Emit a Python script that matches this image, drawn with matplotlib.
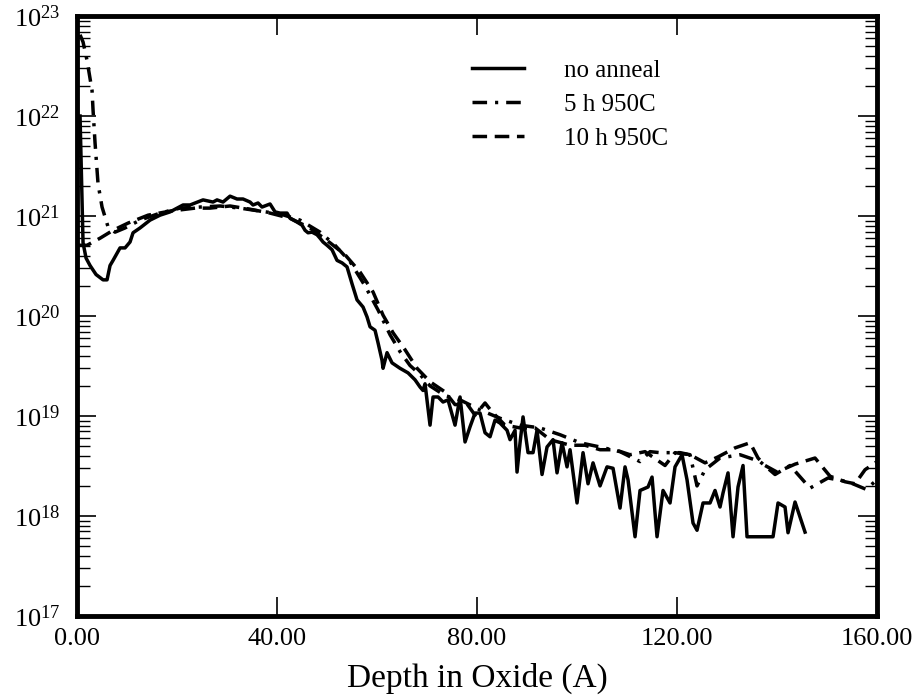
import math
import matplotlib
matplotlib.use("Agg")
import matplotlib.pyplot as plt
from matplotlib.ticker import LogLocator, FixedLocator, FuncFormatter, NullFormatter
from matplotlib.lines import Line2D

plt.rcParams['font.family'] = ['Liberation Serif', 'DejaVu Serif']
plt.rcParams['mathtext.fontset'] = 'custom'
plt.rcParams['mathtext.rm'] = 'Liberation Serif'
plt.rcParams['mathtext.it'] = 'Liberation Serif:italic'

# ---- data: no anneal ----
depth_no = [0.6, 1.2, 1.8, 2.6, 3.8, 5.2, 6.0, 6.6, 7.2, 8.6, 9.6, 10.6, 11.2, 12.6, 14.6, 16.6,
            18.6, 21.2, 22.6, 25.2, 27.2, 28.0, 29.2, 30.6, 32.0, 33.2, 34.6, 35.2, 36.2, 37.0,
            38.6, 39.6, 40.6, 42.0, 42.6, 44.0, 45.0, 45.6, 46.2, 47.0, 48.0, 48.6, 49.2, 50.0,
            51.0, 52.0, 53.0, 54.0, 55.0, 56.0, 57.2, 58.0, 58.6, 59.6, 60.2, 61.0, 61.2, 62.0,
            63.0, 64.6, 66.2, 67.6, 68.6, 69.2, 69.6, 70.6, 71.2, 72.2, 73.2, 74.2, 75.6, 76.6,
            77.6, 78.6, 79.6, 80.6, 81.6, 82.6, 83.6, 84.6, 86.0, 86.6, 87.6, 88.0, 88.6, 89.2,
            90.2, 91.2, 92.0, 93.0, 94.0, 95.2, 96.0, 97.0, 98.0, 98.6, 100.0, 101.2, 102.2,
            103.2, 104.6, 106.0, 107.2, 108.6, 109.6, 110.2, 111.6, 112.6, 114.2, 115.0, 116.0,
            117.2, 118.6, 119.6, 121.0, 122.0, 123.2, 124.0, 125.2, 126.6, 127.6, 128.6, 129.2,
            130.2, 131.2, 132.2, 133.2, 134.0, 139.2, 140.2, 141.6, 142.2, 143.6, 145.6]
conc_no = [1.0e22, 5.4e20, 3.8e20, 3.2e20, 2.6e20, 2.3e20, 2.3e20, 3.2e20, 3.6e20, 4.8e20,
           4.8e20, 5.5e20, 6.8e20, 7.6e20, 9.1e20, 1.02e21, 1.10e21, 1.29e21, 1.29e21, 1.45e21,
           1.38e21, 1.45e21, 1.38e21, 1.58e21, 1.48e21, 1.48e21, 1.38e21, 1.29e21, 1.35e21,
           1.23e21, 1.32e21, 1.10e21, 1.07e21, 1.07e21, 9.5e20, 8.7e20, 8.1e20, 7.2e20, 6.8e20,
           6.9e20, 6.5e20, 6.0e20, 5.5e20, 5.1e20, 4.6e20, 3.6e20, 3.4e20, 3.1e20, 2.1e20,
           1.45e20, 1.23e20, 9.8e19, 7.8e19, 7.2e19, 5.4e19, 3.6e19, 3.0e19, 4.3e19, 3.4e19,
           3.0e19, 2.7e19, 2.3e19, 1.95e19, 1.8e19, 2.1e19, 8.1e18, 1.55e19, 1.55e19, 1.38e19,
           1.45e19, 8.1e18, 1.55e19, 5.5e18, 7.8e18, 1.07e19, 1.07e19, 6.8e18, 6.2e18, 9.1e18,
           8.5e18, 7.2e18, 5.8e18, 7.2e18, 2.75e18, 5.4e18, 9.8e18, 4.3e18, 4.3e18, 7.2e18,
           2.6e18, 4.9e18, 5.8e18, 2.7e18, 5.4e18, 3.1e18, 4.6e18, 1.35e18, 4.3e18, 2.1e18,
           3.4e18, 2.0e18, 3.1e18, 3.0e18, 1.2e18, 3.1e18, 2.3e18, 6.2e17, 1.8e18, 1.95e18,
           2.45e18, 6.2e17, 1.8e18, 1.35e18, 3.1e18, 4.1e18, 2.3e18, 8.5e17, 7.2e17, 1.35e18,
           1.35e18, 1.8e18, 1.23e18, 1.7e18, 2.7e18, 6.2e17, 1.95e18, 3.2e18, 6.2e17, 6.2e17,
           1.35e18, 1.23e18, 6.8e17, 1.38e18, 6.9e17]

# ---- data: 5 h 950C ----
depth_5h = [0.6, 1.2, 2.0, 3.0, 3.2, 3.6, 4.2, 5.0, 6.2, 7.6, 9.6, 12.6, 16.6, 20.6, 24.6, 28.6,
            32.6, 36.6, 40.6, 44.6, 48.6, 51.6, 54.6, 57.6, 60.2, 62.6, 64.6, 66.6, 68.6, 70.6,
            73.6, 76.6, 80.6, 84.6, 88.6, 92.6, 96.6, 100.6, 104.6, 108.6, 112.6, 114.6, 116.6,
            120.6, 122.6, 124.0, 125.6, 128.6, 132.6, 136.6, 139.6, 142.6, 146.6, 150.2, 154.2,
            157.8, 160.0]
conc_5h = [6.5e22, 5.5e22, 3.6e22, 1.8e22, 1.15e22, 5.4e21, 2.1e21, 1.23e21, 7.8e20, 6.9e20,
           7.6e20, 9.1e20, 1.07e21, 1.2e21, 1.23e21, 1.26e21, 1.2e21, 1.12e21, 1.05e21, 9.1e20,
           6.9e20, 5.1e20, 3.5e20, 2.0e20, 1.15e20, 6.5e19, 4.4e19, 3.2e19, 2.6e19, 2.0e19,
           1.6e19, 1.45e19, 1.15e19, 9.5e18, 8.1e18, 7.6e18, 6.5e18, 5.4e18, 4.9e18, 4.4e18,
           3.5e18, 4.4e18, 4.3e18, 4.3e18, 4.1e18, 2.0e18, 2.9e18, 3.8e18, 4.1e18, 3.5e18,
           2.6e18, 3.2e18, 1.9e18, 2.4e18, 2.2e18, 1.85e18, 2.3e18]

# ---- data: 10 h 950C ----
depth_10h = [0.0, 2.0, 4.6, 7.2, 10.2, 14.2, 18.6, 23.6, 26.6, 30.6, 34.6, 38.6, 42.6, 46.6,
             50.6, 53.6, 56.6, 59.2, 61.2, 63.2, 65.6, 68.0, 70.6, 73.6, 75.6, 78.0, 79.6, 81.6,
             83.0, 85.6, 88.6, 91.6, 94.6, 98.6, 101.6, 104.6, 107.6, 110.6, 113.6, 117.6, 119.6,
             122.6, 125.6, 128.2, 131.6, 134.6, 136.2, 137.6, 140.0, 143.6, 147.6, 150.6, 153.6,
             155.6, 157.6, 160.0]
conc_10h = [5.1e20, 5.1e20, 6.0e20, 7.2e20, 8.5e20, 1.02e21, 1.12e21, 1.2e21, 1.2e21, 1.26e21,
            1.17e21, 1.07e21, 9.5e20, 7.6e20, 5.4e20, 4.1e20, 2.75e20, 1.74e20, 1.02e20, 6.8e19,
            4.6e19, 3.0e19, 2.2e19, 1.74e19, 1.3e19, 1.32e19, 1.02e19, 1.35e19, 1.1e19, 8.1e18,
            7.6e18, 7.6e18, 5.8e18, 5.1e18, 5.1e18, 4.6e18, 4.6e18, 4.1e18, 4.4e18, 3.2e18,
            4.3e18, 4.1e18, 3.4e18, 3.9e18, 4.8e18, 5.4e18, 3.8e18, 3.2e18, 2.75e18, 3.3e18,
            3.8e18, 2.5e18, 2.2e18, 2.1e18, 2.9e18, 3.5e18]

series_labels = ["no anneal", "5 h 950C", "10 h 950C"]
x_ticks = [0, 40, 80, 120, 160]
x_ticklabels = ["0.00", "40.00", "80.00", "120.00", "160.00"]
y_exponents = [17, 18, 19, 20, 21, 22, 23]

fig = plt.figure(figsize=(9.15, 6.98), dpi=100)
ax = fig.add_axes([0.0842, 0.1175, 0.8743, 0.8595])

lw = 2.5
ls_dashdot = (0, (4.2, 2.3, 0.9, 2.3))
ls_dashed = (0, (4.2, 2.2))
ax.plot(depth_no, conc_no, color='black', lw=lw, solid_joinstyle='round', label=series_labels[0])
ax.plot(depth_5h, conc_5h, color='black', lw=lw, linestyle=ls_dashdot, label=series_labels[1])
ax.plot(depth_10h, conc_10h, color='black', lw=lw, linestyle=ls_dashed, label=series_labels[2])

ax.set_yscale('log')
ax.set_xlim(0, 160)
ax.set_ylim(1e17, 1e23)

ax.xaxis.set_major_locator(FixedLocator(x_ticks))
ax.set_xticklabels(x_ticklabels)
ax.yaxis.set_major_locator(FixedLocator([10.0**e for e in y_exponents]))
ax.yaxis.set_major_formatter(FuncFormatter(lambda v, p: r"$\mathrm{10^{%d}}$" % round(math.log10(v))))
ax.yaxis.set_minor_locator(LogLocator(base=10, subs=range(2, 10), numticks=20))
ax.yaxis.set_minor_formatter(NullFormatter())

for s in ax.spines.values():
    s.set_linewidth(3.5)

ax.tick_params(axis='both', which='major', direction='in', length=14, width=1.2,
               top=True, right=True, labelsize=19, pad=9)
ax.tick_params(axis='y', which='minor', direction='in', length=9, width=1.0,
               left=True, right=True)
ax.tick_params(axis='y', which='major', pad=12)

ax.set_xlabel("Depth in Oxide (A)", fontsize=24, labelpad=9)

handles = [Line2D([], [], color='black', lw=lw),
           Line2D([], [], color='black', lw=lw, linestyle=ls_dashdot),
           Line2D([], [], color='black', lw=lw, linestyle=ls_dashed)]
ax.legend(handles, series_labels, loc='upper left', bbox_to_anchor=(0.465, 0.965),
          frameon=False, fontsize=18, handlelength=2.1, handletextpad=1.6, labelspacing=0.45)

fig.savefig("out.png", dpi=100)
